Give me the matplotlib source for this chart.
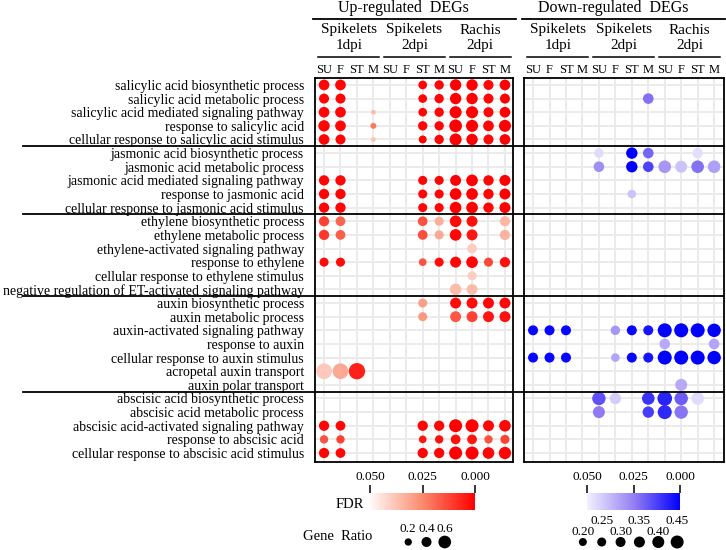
import numpy as np
import matplotlib
matplotlib.use("Agg")
import matplotlib.pyplot as plt
from matplotlib.colors import LinearSegmentedColormap, Normalize
from matplotlib.cm import ScalarMappable
from matplotlib.lines import Line2D
import matplotlib.transforms as mtransforms

plt.rcParams['font.family'] = ['Liberation Serif', 'DejaVu Serif']

# ---------------- data ----------------
terms = [
    "salicylic acid biosynthetic process",
    "salicylic acid metabolic process",
    "salicylic acid mediated signaling pathway",
    "response to salicylic acid",
    "cellular response to salicylic acid stimulus",
    "jasmonic acid biosynthetic process",
    "jasmonic acid metabolic process",
    "jasmonic acid mediated signaling pathway",
    "response to jasmonic acid",
    "cellular response to jasmonic acid stimulus",
    "ethylene biosynthetic process",
    "ethylene metabolic process",
    "ethylene-activated signaling pathway",
    "response to ethylene",
    "cellular response to ethylene stimulus",
    "negative regulation of ET-activated signaling pathway",
    "auxin biosynthetic process",
    "auxin metabolic process",
    "auxin-activated signaling pathway",
    "response to auxin",
    "cellular response to auxin stimulus",
    "acropetal auxin transport",
    "auxin polar transport",
    "abscisic acid biosynthetic process",
    "abscisic acid metabolic process",
    "abscisic acid-activated signaling pathway",
    "response to abscisic acid",
    "cellular response to abscisic acid stimulus",
]
group_sizes = [5, 5, 6, 7, 5]
col_labels = ["SU", "F", "ST", "M"] * 3
tissue_labels = ["Spikelets\n1dpi", "Spikelets\n2dpi", "Rachis\n2dpi"]
panel_titles = ["Up-regulated  DEGs", "Down-regulated  DEGs"]

n = np.nan
# columns: S1-SU S1-F S1-ST S1-M | S2-SU S2-F S2-ST S2-M | R2-SU R2-F R2-ST R2-M
up_ratio = [
    [.45, .45, n, n,   n, n, .30, .35, .50, .50, .40, .45],
    [.40, .40, n, n,   n, n, .30, .35, .50, .50, .40, .40],
    [.45, .45, n, .02, n, n, .30, .35, .55, .55, .40, .45],
    [.50, .45, n, .10, n, n, .35, .35, .60, .55, .45, .55],
    [.45, .40, n, .02, n, n, .25, .35, .55, .50, .40, .45],
    [n, n, n, n, n, n, n, n, n, n, n, n],
    [n, n, n, n, n, n, n, n, n, n, n, n],
    [.42, .42, n, n, n, n, .33, .33, .47, .52, .42, .47],
    [.42, .42, n, n, n, n, .33, .33, .52, .52, .42, .47],
    [.42, .42, n, n, n, n, .33, .33, .52, .52, .42, .47],
    [.42, .38, n, n, n, n, .38, .33, .52, .47, n, .42],
    [.42, .38, n, n, n, n, .38, .33, .52, .47, n, .42],
    [n, n, n, n, n, n, n, n, n, .38, n, n],
    [.33, .33, n, n, n, n, .23, .33, .47, .52, .33, .42],
    [n, n, n, n, n, n, n, n, n, .33, n, n],
    [n, n, n, n, n, n, n, n, .52, .47, n, n],
    [n, n, n, n, n, n, .33, n, .47, .47, .47, .47],
    [n, n, n, n, n, n, .33, n, .47, .47, .47, .47],
    [n, n, n, n, n, n, n, n, n, n, n, n],
    [n, n, n, n, n, n, n, n, n, n, n, n],
    [n, n, n, n, n, n, n, n, n, n, n, n],
    [.82, .82, .87, n, n, n, n, n, n, n, n, n],
    [n, n, n, n, n, n, n, n, n, n, n, n],
    [n, n, n, n, n, n, n, n, n, n, n, n],
    [n, n, n, n, n, n, n, n, n, n, n, n],
    [.42, .38, n, n, n, n, .42, .42, .62, .62, .47, .52],
    [.28, .28, n, n, n, n, .23, .28, .38, .38, .28, .33],
    [.42, .38, n, n, n, n, .42, .42, .62, .62, .52, .57],
]
up_fdr = [
    [.001, .001, n, n,    n, n, .001, .001, .000, .000, .001, .000],
    [.001, .001, n, n,    n, n, .001, .001, .000, .000, .001, .000],
    [.001, .001, n, .036, n, n, .001, .001, .000, .000, .001, .000],
    [.001, .001, n, .022, n, n, .001, .001, .000, .000, .001, .000],
    [.001, .001, n, .038, n, n, .001, .001, .000, .000, .001, .000],
    [n, n, n, n, n, n, n, n, n, n, n, n],
    [n, n, n, n, n, n, n, n, n, n, n, n],
    [.001, .001, n, n, n, n, .001, .001, .000, .000, .001, .000],
    [.001, .001, n, n, n, n, .001, .001, .000, .000, .001, .000],
    [.001, .001, n, n, n, n, .001, .001, .000, .000, .001, .000],
    [.012, .018, n, n, n, n, .015, .033, .002, .003, n, .035],
    [.010, .017, n, n, n, n, .014, .032, .001, .004, n, .034],
    [n, n, n, n, n, n, n, n, n, .040, n, n],
    [.002, .002, n, n, n, n, .015, .002, .001, .001, .013, .003],
    [n, n, n, n, n, n, n, n, n, .040, n, n],
    [n, n, n, n, n, n, n, n, .036, .036, n, n],
    [n, n, n, n, n, n, .030, n, .002, .002, .001, .001],
    [n, n, n, n, n, n, .028, n, .016, .012, .004, .003],
    [n, n, n, n, n, n, n, n, n, n, n, n],
    [n, n, n, n, n, n, n, n, n, n, n, n],
    [n, n, n, n, n, n, n, n, n, n, n, n],
    [.039, .032, .006, n, n, n, n, n, n, n, n, n],
    [n, n, n, n, n, n, n, n, n, n, n, n],
    [n, n, n, n, n, n, n, n, n, n, n, n],
    [n, n, n, n, n, n, n, n, n, n, n, n],
    [.001, .001, n, n, n, n, .001, .001, .000, .000, .001, .001],
    [.015, .012, n, n, n, n, .004, .003, .003, .004, .015, .012],
    [.001, .001, n, n, n, n, .001, .001, .000, .000, .001, .001],
]
down_ratio = [
    [n, n, n, n, n, n, n, n, n, n, n, n],
    [n, n, n, n, n, n, n, .33, n, n, n, n],
    [n, n, n, n, n, n, n, n, n, n, n, n],
    [n, n, n, n, n, n, n, n, n, n, n, n],
    [n, n, n, n, n, n, n, n, n, n, n, n],
    [n, n, n, n, .27, n, .37, .33, n, n, .33, n],
    [n, n, n, n, .33, n, .37, .33, .43, .40, .43, .43],
    [n, n, n, n, n, n, n, n, n, n, n, n],
    [n, n, n, n, n, n, .23, n, n, n, n, n],
    [n, n, n, n, n, n, n, n, n, n, n, n],
    [n, n, n, n, n, n, n, n, n, n, n, n],
    [n, n, n, n, n, n, n, n, n, n, n, n],
    [n, n, n, n, n, n, n, n, n, n, n, n],
    [n, n, n, n, n, n, n, n, n, n, n, n],
    [n, n, n, n, n, n, n, n, n, n, n, n],
    [n, n, n, n, n, n, n, n, n, n, n, n],
    [n, n, n, n, n, n, n, n, n, n, n, n],
    [n, n, n, n, n, n, n, n, n, n, n, n],
    [.30, .30, .30, n, n, .27, .30, .30, .50, .50, .50, .47],
    [n, n, n, n, n, n, n, n, .33, n, n, .33],
    [.30, .30, .30, n, n, .23, .30, .30, .50, .50, .50, .47],
    [n, n, n, n, n, n, n, n, n, n, n, n],
    [n, n, n, n, n, n, n, n, n, .40, n, n],
    [n, n, n, n, .47, .37, n, .43, .53, .47, .43, n],
    [n, n, n, n, .40, n, n, .37, .50, .47, n, n],
    [n, n, n, n, n, n, n, n, n, n, n, n],
    [n, n, n, n, n, n, n, n, n, n, n, n],
    [n, n, n, n, n, n, n, n, n, n, n, n],
]
down_fdr = [
    [n, n, n, n, n, n, n, n, n, n, n, n],
    [n, n, n, n, n, n, n, .022, n, n, n, n],
    [n, n, n, n, n, n, n, n, n, n, n, n],
    [n, n, n, n, n, n, n, n, n, n, n, n],
    [n, n, n, n, n, n, n, n, n, n, n, n],
    [n, n, n, n, .045, n, .000, .020, n, n, .046, n],
    [n, n, n, n, .028, n, .000, .013, .030, .040, .022, .032],
    [n, n, n, n, n, n, n, n, n, n, n, n],
    [n, n, n, n, n, n, .040, n, n, n, n, n],
    [n, n, n, n, n, n, n, n, n, n, n, n],
    [n, n, n, n, n, n, n, n, n, n, n, n],
    [n, n, n, n, n, n, n, n, n, n, n, n],
    [n, n, n, n, n, n, n, n, n, n, n, n],
    [n, n, n, n, n, n, n, n, n, n, n, n],
    [n, n, n, n, n, n, n, n, n, n, n, n],
    [n, n, n, n, n, n, n, n, n, n, n, n],
    [n, n, n, n, n, n, n, n, n, n, n, n],
    [n, n, n, n, n, n, n, n, n, n, n, n],
    [.001, .001, .001, n, n, .030, .001, .004, .000, .000, .000, .000],
    [n, n, n, n, n, n, n, n, .034, n, n, .033],
    [.001, .001, .001, n, n, .033, .001, .004, .000, .000, .000, .000],
    [n, n, n, n, n, n, n, n, n, n, n, n],
    [n, n, n, n, n, n, n, n, n, .034, n, n],
    [n, n, n, n, .016, .042, n, .010, .007, .018, .045, n],
    [n, n, n, n, .024, n, n, .012, .008, .023, n, n],
    [n, n, n, n, n, n, n, n, n, n, n, n],
    [n, n, n, n, n, n, n, n, n, n, n, n],
    [n, n, n, n, n, n, n, n, n, n, n, n],
]
up_legend_ratios = [0.2, 0.4, 0.6]
down_legend_ratios = [0.20, 0.25, 0.30, 0.35, 0.40, 0.45]
fdr_ticks = [0.050, 0.025, 0.000]

# ---------------- styling ----------------
W, H = 726, 550
fig = plt.figure(figsize=(W / 100, H / 100), dpi=100)

def px_axes(x0, y0, x1, y1):
    return fig.add_axes([x0 / W, 1 - y1 / H, (x1 - x0) / W, (y1 - y0) / H])

red_cmap = LinearSegmentedColormap.from_list(
    "upred", [(0, "#ff0000"), (0.5, "#fa8a6c"), (1, "#fffafa")])
blue_cmap = LinearSegmentedColormap.from_list(
    "downblue", [(0, "#0000ff"), (0.5, "#9580f2"), (1, "#f3f0ff")])
norm = Normalize(0, 0.05)

def up_size(r):
    d = (4.6 + 13.5 * np.asarray(r)) * 0.72
    return d ** 2

def down_size(r):
    d = (4.0 + 20.0 * np.asarray(r)) * 0.72
    return d ** 2

ax1 = px_axes(315, 78, 513, 462)
ax2 = px_axes(524, 78, 724, 462)
panels = [(ax1, up_ratio, up_fdr, red_cmap, up_size, 11.49),
          (ax2, down_ratio, down_fdr, blue_cmap, down_size, 11.6)]

for ax, ratio, fdr, cmap, sizef, xmax in panels:
    R = np.array(ratio, dtype=float)
    F = np.array(fdr, dtype=float)
    rr, cc = np.where(~np.isnan(R))
    ax.scatter(cc, rr, s=sizef(R[rr, cc]), c=F[rr, cc], cmap=cmap, norm=norm,
               edgecolors="none", zorder=3)
    ax.set_xlim(-0.55, xmax)
    ax.set_ylim(27.66, -0.51)
    ax.set_xticks(range(12))
    ax.set_yticks(range(len(terms)))
    ax.grid(True, color="#ebebeb", lw=1.4)
    ax.set_axisbelow(True)
    ax.xaxis.tick_top()
    ax.set_xticklabels(col_labels, fontsize=9)
    ax.tick_params(axis="both", length=0)
    ax.tick_params(axis="x", pad=1.5)
    for sp in ax.spines.values():
        sp.set_color("black")
        sp.set_linewidth(1.3)

ax1.set_yticklabels(terms, fontsize=10)
ax1.tick_params(axis="y", pad=8)
ax2.set_yticklabels([])

# group separator lines
trans_sep = mtransforms.blended_transform_factory(fig.transFigure, ax1.transData)
for b in np.cumsum(group_sizes)[:-1] - 0.5:
    fig.add_artist(Line2D([23 / W, 724 / W], [b, b], transform=trans_sep,
                          color="black", lw=1.3))

# headers
for ax, title in zip([ax1, ax2], panel_titles):
    tr = mtransforms.blended_transform_factory(ax.transData, fig.transFigure)
    ax.text(4.85, 1 - 8 / H, title, transform=tr, ha="center", va="center",
            fontsize=11.5, clip_on=False)
    ax.add_line(Line2D([-0.67, 11.65], [1 - 19 / H] * 2, transform=tr,
                       color="black", lw=1.3, clip_on=False))
    for g, lab in enumerate(tissue_labels):
        cx = 4 * g + 1.5
        ax.text(cx, 1 - 38 / H, lab, transform=tr, ha="center", va="center",
                fontsize=11, linespacing=1.3, clip_on=False)
        ax.add_line(Line2D([cx - 1.85, cx + 1.85], [1 - 57 / H] * 2, transform=tr,
                           color="black", lw=1.1, clip_on=False))

# colorbars
for (x0, x1), cmap in [((370, 475), red_cmap), ((587, 680), blue_cmap)]:
    cax = px_axes(x0, 493, x1, 510)
    cb = fig.colorbar(ScalarMappable(norm=norm, cmap=cmap), cax=cax,
                      orientation="horizontal")
    cb.outline.set_visible(False)
    cax.invert_xaxis()
    cax.xaxis.set_ticks_position("top")
    cb.set_ticks(fdr_ticks)
    cb.set_ticklabels([f"{t:.3f}" for t in fdr_ticks])
    cax.tick_params(axis="x", length=6, width=1.1, color="black",
                    labelsize=9.5, pad=1.5, direction="out")

fig.text(350 / W, 1 - 505 / H, "FDR", ha="center", va="center", fontsize=10.5)
fig.text(338 / W, 1 - 537 / H, "Gene  Ratio", ha="center", va="center", fontsize=10.5)

# size legends
lax1 = px_axes(390, 534, 463, 550)
lax2 = px_axes(564, 534, 696, 550)
for lax, vals, sizef, offs, fmt in [
        (lax1, up_legend_ratios, up_size, [9, 9, 9], "{:.1f}"),
        (lax2, down_legend_ratios, down_size, [7, 15, 7, 15, 7, 15], "{:.2f}")]:
    xs = np.arange(len(vals))
    lax.scatter(xs, np.zeros(len(vals)), s=sizef(vals), color="black",
                edgecolors="none", clip_on=False)
    lax.set_xlim(-1, len(vals))
    lax.set_ylim(-1, 1)
    lax.axis("off")
    for x, v, o in zip(xs, vals, offs):
        tr = mtransforms.offset_copy(lax.transData, fig=fig, x=0, y=o, units="points")
        lax.text(x, 0, fmt.format(v), transform=tr, ha="center", va="center",
                 fontsize=9.5, clip_on=False)

fig.savefig("out.png", dpi=100)
